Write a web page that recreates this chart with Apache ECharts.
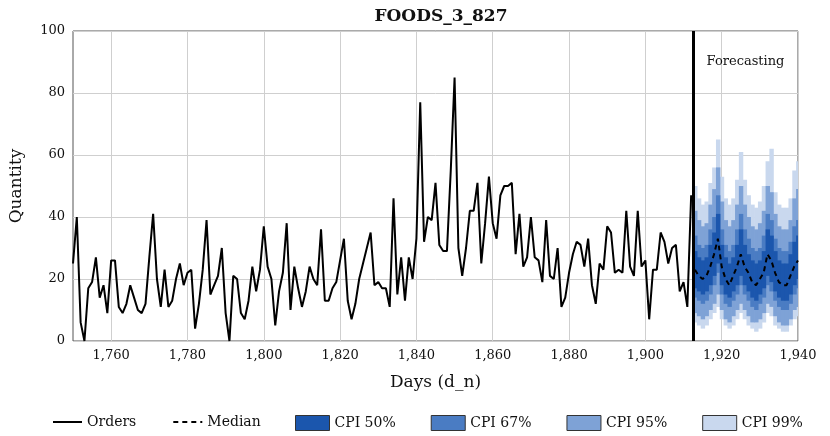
<!DOCTYPE html>
<html>
<head>
<meta charset="utf-8">
<script src="https://cdn.jsdelivr.net/npm/echarts@6/dist/echarts.min.js"></script>
<style>
  html, body { margin: 0; padding: 0; background: #fff; }
  #chart { width: 830px; height: 436px; }
</style>
</head>
<body>
<div id="chart"></div>
<script>
// history: one value per day starting at day 1750
const firstDay = 1750
const orders = [
  25, 40, 6, 0, 17, 19, 27, 14, 18, 9,
  26, 26, 11, 9, 12, 18, 14, 10, 9, 12,
  27, 41, 20, 11, 23, 11, 13, 20, 25, 18,
  22, 23, 4, 12, 23, 39, 15, 18, 21, 30,
  9, 0, 21, 20, 9, 7, 13, 24, 16, 23,
  37, 24, 20, 5, 16, 22, 38, 10, 24, 17,
  11, 16, 24, 20, 18, 36, 13, 13, 17, 19,
  26, 33, 13, 7, 12, 20, 25, 30, 35, 18,
  19, 17, 17, 11, 46, 15, 27, 13, 27, 20,
  33, 77, 32, 40, 39, 51, 31, 29, 29, 55,
  85, 30, 21, 30, 42, 42, 51, 25, 38, 53,
  38, 33, 47, 50, 50, 51, 28, 41, 24, 27,
  40, 27, 26, 19, 39, 21, 20, 30, 11, 14,
  22, 28, 32, 31, 24, 33, 18, 12, 25, 23,
  37, 35, 22, 23, 22, 42, 24, 21, 42, 24,
  26, 7, 23, 23, 35, 32, 25, 30, 31, 16,
  19, 11, 47,
]

// forecast horizon
const forecastDays = [
  1913, 1914, 1915, 1916, 1917, 1918, 1919, 1920, 1921, 1922, 1923, 1924, 1925, 1926,
  1927, 1928, 1929, 1930, 1931, 1932, 1933, 1934, 1935, 1936, 1937, 1938, 1939, 1940,
]
const median = [23, 21, 20, 21, 24, 28, 33, 24, 20, 18, 21, 24, 28, 24, 22, 19, 18, 20, 22, 28, 26, 22, 19, 18, 18, 21, 24, 26]
const hi50 = [29, 27, 26, 27, 31, 35, 41, 31, 27, 25, 27, 31, 36, 31, 28, 26, 25, 26, 29, 36, 34, 29, 26, 25, 25, 28, 32, 34]
const lo50 = [17, 16, 15, 16, 18, 21, 25, 18, 15, 14, 16, 18, 21, 18, 16, 14, 13, 15, 17, 21, 19, 16, 14, 13, 13, 15, 18, 20]
const hi67 = [34, 31, 30, 31, 36, 40, 47, 36, 31, 29, 31, 36, 41, 36, 33, 30, 29, 30, 34, 41, 39, 33, 30, 29, 29, 32, 37, 39]
const lo67 = [14, 13, 12, 13, 15, 18, 22, 15, 12, 11, 13, 15, 18, 15, 13, 11, 10, 12, 14, 18, 16, 13, 11, 10, 10, 12, 15, 17]
const hi95 = [42, 39, 37, 38, 44, 49, 56, 45, 39, 37, 39, 44, 50, 44, 40, 37, 36, 38, 42, 50, 48, 41, 37, 36, 36, 39, 46, 49]
const lo95 = [9, 8, 7, 8, 10, 12, 15, 10, 7, 6, 8, 10, 12, 10, 8, 6, 6, 7, 9, 12, 11, 8, 6, 5, 5, 7, 10, 11]
const hi99 = [50, 46, 44, 45, 51, 56, 65, 53, 46, 44, 46, 52, 61, 52, 47, 44, 43, 45, 50, 58, 62, 48, 44, 43, 43, 46, 55, 58]
const lo99 = [6, 5, 4, 5, 7, 9, 11, 7, 5, 4, 5, 7, 9, 7, 5, 4, 3, 4, 6, 9, 8, 5, 4, 3, 3, 5, 7, 8]

const xTicks = [1760, 1780, 1800, 1820, 1840, 1860, 1880, 1900, 1920, 1940]
const forecastStart = 1912.5

const fontFamily = 'DejaVu Serif'
const textColor = '#111'

const bandColors = {
  c50: '#1b56ad',
  c67: '#4a7cc3',
  c95: '#7ea2d6',
  c99: '#c9d8ee',
}

// one rect per forecast day, from lo to hi
const renderBand = (params, api) => {
  const day = api.value(0)
  const topLeft = api.coord([day - 0.5, api.value(2)])
  const bottomRight = api.coord([day + 0.5, api.value(1)])

  return {
    type: 'rect',
    shape: {
      x: topLeft[0],
      y: topLeft[1],
      width: bottomRight[0] - topLeft[0] + 0.6,
      height: bottomRight[1] - topLeft[1],
    },
    style: { fill: api.visual('color') },
  }
}

const bandSeries = (name, lo, hi, color) => ({
  name,
  type: 'custom',
  renderItem: renderBand,
  clip: true,
  silent: true,
  itemStyle: { color },
  encode: { x: 0, y: [1, 2] },
  data: forecastDays.map((d, i) => [d, lo[i], hi[i]]),
  z: 1,
})

const boxLegend = { icon: 'rect', itemStyle: { borderColor: '#333', borderWidth: 1 } }
// hide the symbol that line series put in the middle of their legend icon
const lineLegend = { itemStyle: { color: 'rgba(0,0,0,0)', borderWidth: 0 } }
const legendText = { fontFamily, fontSize: 14, color: textColor }

const chart = echarts.init(document.getElementById('chart'))

chart.setOption({
  animation: false,
  title: {
    text: 'FOODS_3_827',
    left: 436,
    textAlign: 'center',
    top: 3,
    textStyle: {
      fontFamily,
      fontWeight: 'bold',
      fontSize: 17,
      color: textColor,
    },
  },
  grid: {
    left: 70,
    right: 32,
    top: 31,
    bottom: 95,
    show: true,
    borderColor: '#555',
    borderWidth: 1,
  },
  legend: [
    {
      left: 47,
      top: 410,
      itemWidth: 29,
      itemHeight: 15,
      itemGap: 36,
      textStyle: legendText,
      data: [
        { name: 'Orders', ...lineLegend },
        { name: 'Median', ...lineLegend },
      ],
    },
    {
      left: 290,
      top: 410,
      itemWidth: 34,
      itemHeight: 15,
      itemGap: 35,
      textStyle: legendText,
      data: [
        { name: 'CPI 50%', ...boxLegend },
        { name: 'CPI 67%', ...boxLegend },
        { name: 'CPI 95%', ...boxLegend },
        { name: 'CPI 99%', ...boxLegend },
      ],
    },
  ],
  xAxis: {
    type: 'value',
    min: 1750,
    max: 1940,
    name: 'Days (d_n)',
    nameLocation: 'middle',
    nameGap: 33,
    nameTextStyle: { fontFamily, fontSize: 17, color: textColor },
    axisLine: { show: false },
    axisTick: { show: false, customValues: xTicks },
    axisLabel: {
      customValues: xTicks,
      fontFamily,
      fontSize: 13,
      color: textColor,
      margin: 8,
      formatter: (v) => v.toLocaleString('en-US'),
    },
    splitLine: { show: true, lineStyle: { color: '#cfcfcf', width: 1 } },
  },
  yAxis: {
    type: 'value',
    min: 0,
    max: 100,
    interval: 20,
    name: 'Quantity',
    nameLocation: 'middle',
    nameGap: 48,
    nameTextStyle: { fontFamily, fontSize: 17, color: textColor },
    axisLine: { show: false },
    axisTick: { show: false },
    axisLabel: { fontFamily, fontSize: 13, color: textColor, margin: 8 },
    splitLine: { show: true, lineStyle: { color: '#cfcfcf', width: 1 } },
  },
  series: [
    bandSeries('CPI 99%', lo99, hi99, bandColors.c99),
    bandSeries('CPI 95%', lo95, hi95, bandColors.c95),
    bandSeries('CPI 67%', lo67, hi67, bandColors.c67),
    bandSeries('CPI 50%', lo50, hi50, bandColors.c50),
    {
      name: 'Orders',
      type: 'line',
      symbol: 'none',
      color: '#000',
      lineStyle: { width: 2, color: '#000' },
      data: orders.map((v, i) => [firstDay + i, v]),
      z: 3,
      markLine: {
        silent: true,
        symbol: 'none',
        label: { show: false },
        lineStyle: { color: '#000', width: 3, type: 'solid' },
        data: [{ xAxis: forecastStart }],
      },
      markArea: {
        silent: true,
        itemStyle: { color: 'rgba(0,0,0,0)' },
        label: {
          show: true,
          position: 'insideTop',
          distance: 24,
          fontFamily,
          fontSize: 13,
          color: textColor,
        },
        data: [[{ name: 'Forecasting', xAxis: forecastStart }, { xAxis: 1940 }]],
      },
    },
    {
      name: 'Median',
      type: 'line',
      symbol: 'none',
      color: '#000',
      lineStyle: { width: 2, color: '#000', type: [5, 4] },
      data: forecastDays.map((d, i) => [d, median[i]]),
      z: 4,
    },
  ],
})
</script>
</body>
</html>
